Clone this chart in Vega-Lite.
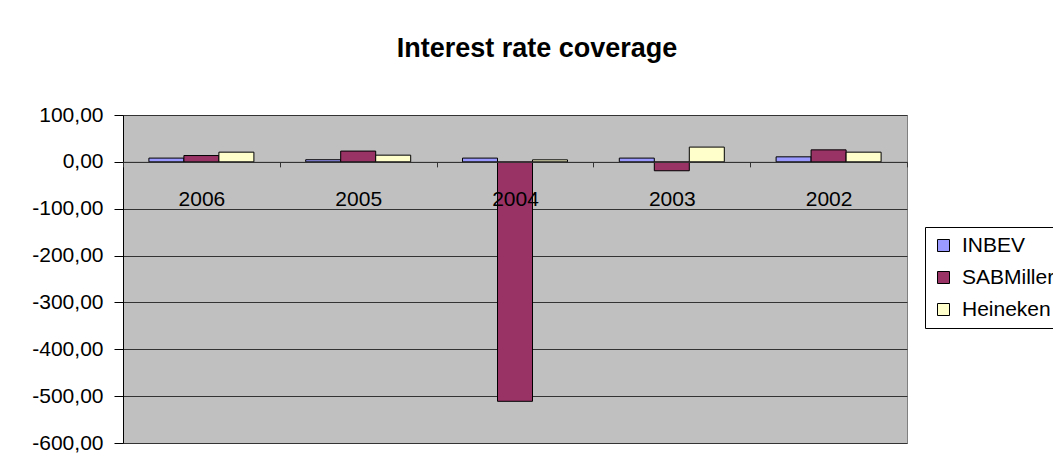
{
  "$schema": "https://vega.github.io/schema/vega-lite/v6.json",
  "width": 784,
  "height": 328,
  "autosize": "none",
  "padding": {"left": 123, "top": 115, "right": 146, "bottom": 30},
  "background": "white",
  "title": {
    "text": "Interest rate coverage",
    "font": "Liberation Sans",
    "fontSize": 27,
    "fontWeight": "bold",
    "color": "black",
    "anchor": "middle",
    "frame": "group",
    "dx": 22,
    "offset": 41
  },
  "config": {
    "locale": {"number": {"decimal": ",", "thousands": ".", "grouping": [3], "currency": ["", " €"], "minus": "-"}},
    "view": {"fill": "#C0C0C0", "stroke": "#808080", "strokeWidth": 1},
    "font": "Liberation Sans"
  },
  "data": {
    "values": [
      {"year": "2006", "company": "INBEV", "value": 8},
      {"year": "2006", "company": "SABMiller", "value": 13.5},
      {"year": "2006", "company": "Heineken", "value": 20.7},
      {"year": "2005", "company": "INBEV", "value": 4.5},
      {"year": "2005", "company": "SABMiller", "value": 23},
      {"year": "2005", "company": "Heineken", "value": 14.3},
      {"year": "2004", "company": "INBEV", "value": 8},
      {"year": "2004", "company": "SABMiller", "value": -511},
      {"year": "2004", "company": "Heineken", "value": 4.3},
      {"year": "2003", "company": "INBEV", "value": 8},
      {"year": "2003", "company": "SABMiller", "value": -19},
      {"year": "2003", "company": "Heineken", "value": 31.5},
      {"year": "2002", "company": "INBEV", "value": 10.7},
      {"year": "2002", "company": "SABMiller", "value": 25.6},
      {"year": "2002", "company": "Heineken", "value": 20.7}
    ]
  },
  "mark": {"type": "bar", "stroke": "black", "strokeWidth": 1},
  "encoding": {
    "x": {
      "field": "year",
      "type": "nominal",
      "sort": ["2006", "2005", "2004", "2003", "2002"],
      "scale": {"paddingInner": 0, "paddingOuter": 0},
      "axis": {
        "title": null,
        "orient": "bottom",
        "offset": -281.14,
        "zindex": 1,
        "tickBand": "extent",
        "tickSize": 5,
        "tickColor": "#333333",
        "domainColor": "#333333",
        "labelAngle": 0,
        "labelFontSize": 21,
        "labelColor": "black",
        "labelPadding": 22,
        "labelFont": "Liberation Sans"
      }
    },
    "xOffset": {
      "field": "company",
      "type": "nominal",
      "sort": ["INBEV", "SABMiller", "Heineken"],
      "scale": {"paddingInner": 0, "paddingOuter": 0.74}
    },
    "y": {
      "field": "value",
      "type": "quantitative",
      "scale": {"domain": [-600, 100], "nice": false, "zero": false},
      "axis": {
        "title": null,
        "values": [100, 0, -100, -200, -300, -400, -500, -600],
        "format": ".2f",
        "grid": true,
        "gridColor": "#333333",
        "gridWidth": 1,
        "domainColor": "black",
        "tickColor": "black",
        "tickSize": 9,
        "labelPadding": 11,
        "labelFontSize": 21,
        "labelColor": "black",
        "labelFont": "Liberation Sans"
      }
    },
    "fill": {
      "field": "company",
      "type": "nominal",
      "sort": ["INBEV", "SABMiller", "Heineken"],
      "scale": {"domain": ["INBEV", "SABMiller", "Heineken"], "range": ["#9999FF", "#993366", "#FFFFCC"]},
      "legend": {
        "title": null,
        "orient": "none",
        "legendX": 802,
        "legendY": 112,
        "padding": 8,
        "strokeColor": "black",
        "fillColor": "white",
        "cornerRadius": 0,
        "symbolType": "square",
        "symbolSize": 144,
        "symbolStrokeColor": "black",
        "symbolStrokeWidth": 1,
        "labelFontSize": 21,
        "labelColor": "black",
        "labelFont": "Liberation Sans",
        "labelOffset": 8,
        "labelLimit": 0,
        "rowPadding": 10
      }
    }
  }
}
